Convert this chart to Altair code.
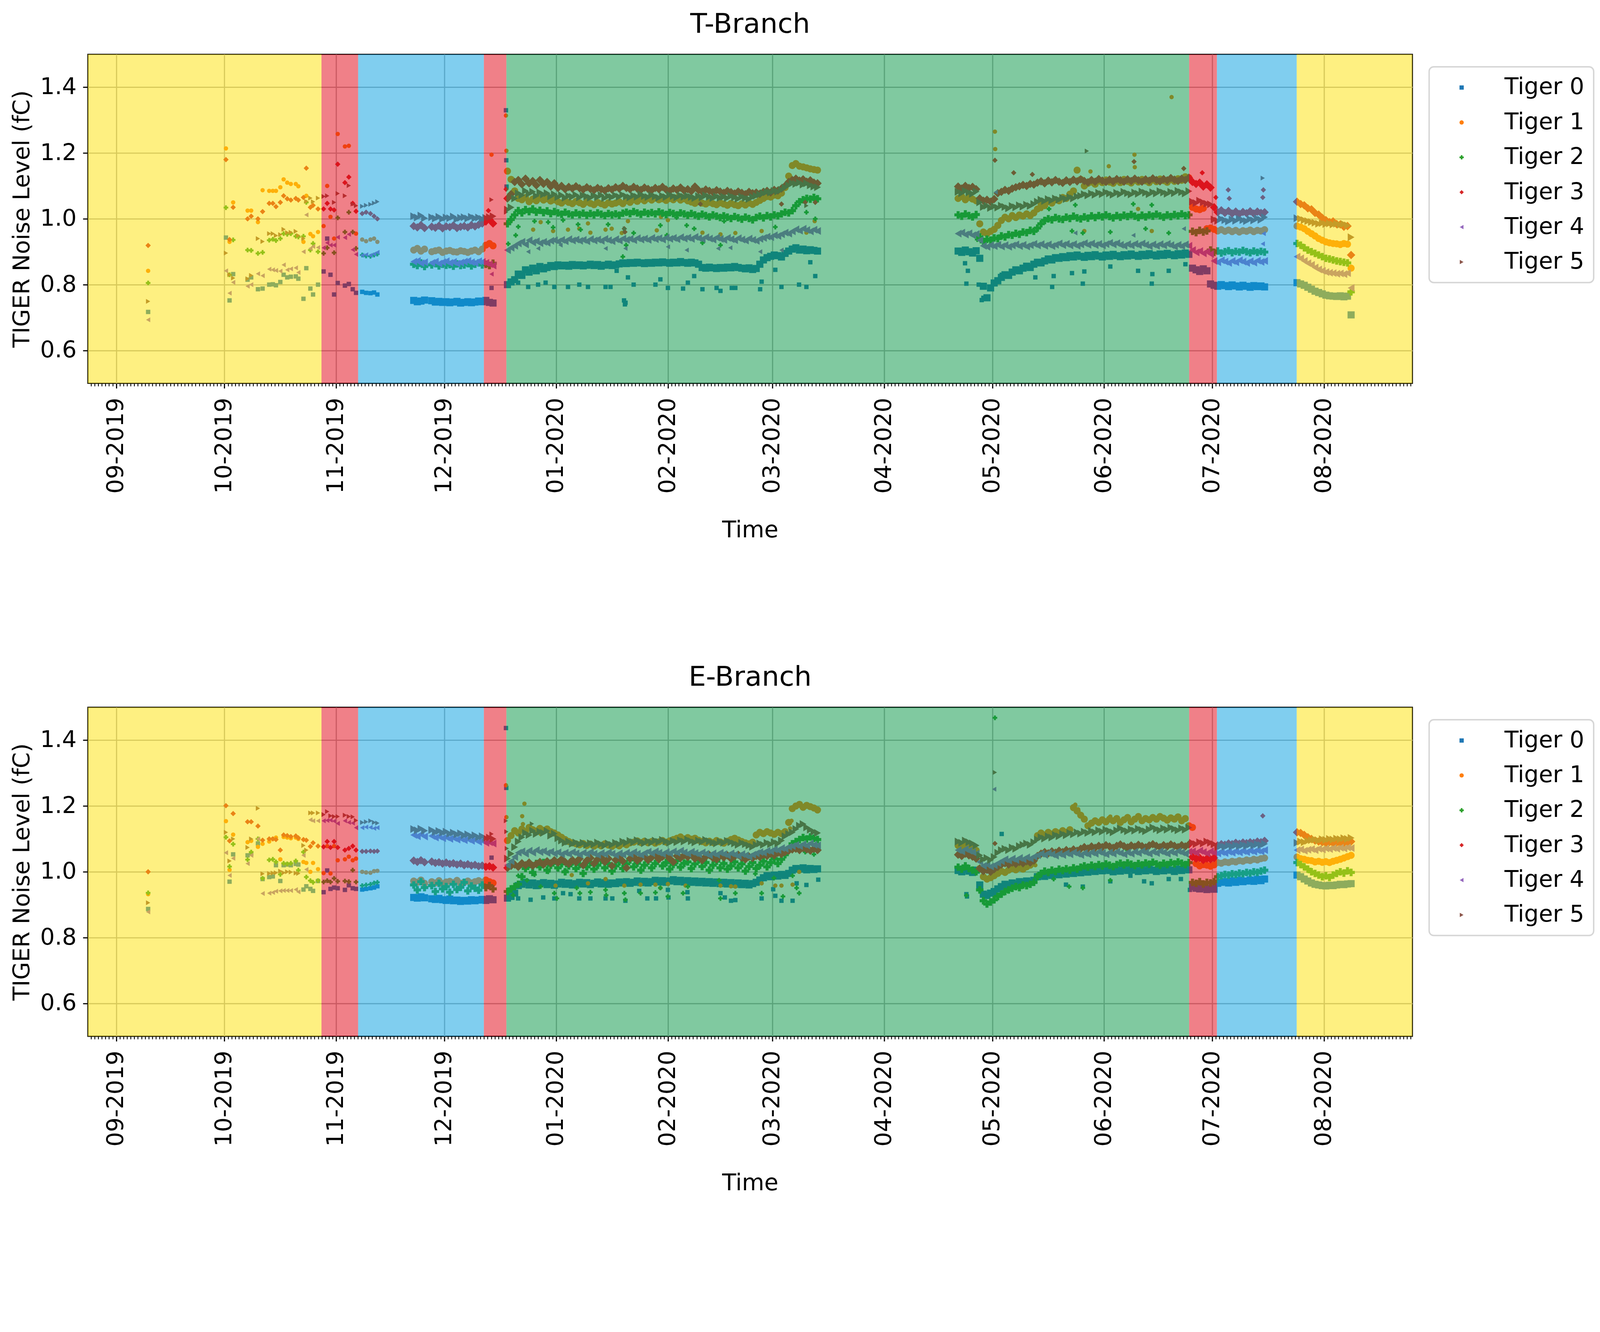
import altair as alt
import pandas as pd

# ---------------------------------------------------------------- categories
TIGERS = ["Tiger 0", "Tiger 1", "Tiger 2", "Tiger 3", "Tiger 4", "Tiger 5"]
COLORS = ["#1f77b4", "#ff7f0e", "#2ca02c", "#d62728", "#9467bd", "#8c564b"]
SHAPES = ["square", "circle", "cross", "diamond", "triangle-left", "triangle-right"]
AREA_SPARSE = [150, 150, 170, 230, 190, 190]   # isolated readings
AREA_DENSE = [400, 400, 440, 560, 480, 480]    # continuous daily runs

# ---------------------------------------------------------------- background periods
BAND_START = ["2019-08-24T03:00", "2019-10-27T22:00", "2019-11-07T02:00", "2019-12-11T23:00",
              "2019-12-18T05:00", "2020-06-24T14:00", "2020-07-02T07:00", "2020-07-24T10:00"]
BAND_END = ["2019-10-27T22:00", "2019-11-07T02:00", "2019-12-11T23:00", "2019-12-18T05:00",
            "2020-06-24T14:00", "2020-07-02T07:00", "2020-07-24T10:00", "2020-08-25T12:00"]
BAND_COLOR = ["#fde103", "#e10111", "#019ddf", "#e10111", "#019341", "#e10111", "#019ddf", "#fde103"]

X_START = "2019-08-24T03:00"
X_END = "2020-08-25T12:00"

# ---------------------------------------------------------------- measurement dates
EARLY_DATES = ["2019-09-09T20", "2019-10-01T10", "2019-10-02T10", "2019-10-03T10", "2019-10-07T10",
               "2019-10-08T10", "2019-10-10T07", "2019-10-11T14", "2019-10-13T10", "2019-10-14T10",
               "2019-10-15T07", "2019-10-16T12", "2019-10-17T10", "2019-10-18T10", "2019-10-19T10",
               "2019-10-20T19", "2019-10-21T12", "2019-10-22T22", "2019-10-23T17", "2019-10-24T20",
               "2019-10-25T14", "2019-10-26T23", "2019-10-28T12", "2019-10-29T12", "2019-10-30T10",
               "2019-10-31T10", "2019-11-01T10", "2019-11-03T10", "2019-11-04T12", "2019-11-05T14",
               "2019-11-06T12", "2019-11-08T05", "2019-11-09T07", "2019-11-10T12", "2019-11-11T12",
               "2019-11-12T10"]
A_START = "2019-11-22"   # daily readings, Nov 22 - Dec 14
B_START = "2019-12-18"   # daily readings, Dec 18 - Mar 13
C_START = "2020-04-21"   # daily readings, Apr 21 - Jul 15
D_START = "2020-07-24"   # daily readings, Jul 24 - Aug 8

# ================================================================ T-Branch (values in mfC)
T0_EARLY = [717, 943, 752, 832, 815, 822, 786, 788, 800, 801, 798, 808, 830, 822, 824, 825, 818, 757,
            850, 788, 770, 800, 840, 940, 830, 770, 805, 797, 802, 786, 775, 778, 775, 774, 776, 770]
T1_EARLY = [842, 1214, 930, 1050, 1025, 1025, 990, 1087, 1085, 1085, 1085, 1096, 1120, 1110, 1106, 1106, 1099, 930,
            1070, 954, 947, 960, 978, 1100, 1006, 940, 1258, 1220, 1222, None, 955, 937, 932, 937, 940, 930]
T2_EARLY = [805, 1034, 830, 936, 905, 904, 895, 898, 935, 938, 934, 940, 955, 953, 955, 947, 945, 947,
            1050, 905, 925, 900, 895, 912, None, 897, 1003, 960, 1020, 960, 910, 890, 887, 886, 890, 893]
T3_EARLY = [919, 1180, 937, 1035, 1000, 1008, 1000, 1022, 1047, 1047, 1037, 1050, 1070, 1061, 1057, 1062, 1057, 1065,
            1154, 1035, 1041, 1030, 1030, 1047, 1030, 1027, 1166, 1110, 1127, 1047, 1023, 1016, 1020, 1016, 1008, 1000]
T4_EARLY = [693, 842, 774, 807, 795, 800, 833, 827, 847, 845, 843, 841, 860, 845, 848, 851, 837, 900,
            1012, 910, 916, 913, 912, 927, 920, 920, 944, 943, 953, 906, 892, 889, 891, 889, 893, 898]
T5_EARLY = [749, 896, 830, 820, 818, 828, 940, 931, 955, 955, 949, 952, 968, 958, 959, 962, 949, 940,
            1053, 1063, 1052, 1063, 1068, 1070, None, 1050, 1077, 1070, 1101, 1045, 1040, 1038, 1041, 1044, 1048, 1052]

T0_A = [752, 748, 750, 753, None, 751, 747, 749, 746, 748, 745, 747, 749, 744, 746, 748, 745, 747, 750, 748, 752, 746, 744]
T1_A = [905, 910, 902, 908, None, 900, 903, 905, 898, 902, 904, 900, 899, 903, 901, 898, 902, 905, 900, 908, 920, 925, 918]
T2_A = [862, 858, 866, 855, None, 860, 864, 857, 862, 859, 861, 856, 863, 858, 860, 864, 857, 862, 866, 860, 862, 858, 865]
T3_A = [978, 974, 981, 972, None, 976, 973, 979, 971, 977, 975, 980, 972, 976, 978, 974, 981, 977, 982, 986, 992, 998, 986]
T4_A = [870, 872, 865, 868, None, 866, 870, 864, 868, 871, 866, 869, 864, 867, 870, 872, 868, 866, 871, 869, 866, 862, 858]
T5_A = [1008, 1004, 1010, 1002, None, 1005, 1001, 1006, 1000, 1004, 1002, 1007, 999, 1003, 1005, 1001, 1006, 1002, 1004, 1000, 1003, 1005, 1008]

T0_B = [800, 808, 815, 832, 828, 845, 838, 850, 842, 855,
        848, 852, 858, 855, 860, 857, 859, 856, 861, 858,
        860, 857, 859, 862, 858, 861, 856, 859, 862, 858,
        860, 863, 866, 864, 867, 865, 868, 866, 864, 867,
        865, 868, 866, 869, 867, 865, 868, 866, 870, 867,
        865, 868, 866, 862, 852, 850, 853, 851, 849, 852,
        850, 853, 851, 855, 852, 850, 848, 851, 846, 849,
        862, 875, 882, 886, 890, 888, 884, 895, 902, 908,
        912, 905, 908, 903, 906, 904, 902]
T1_B = [1145, 1120, 1085, 1062, 1058, 1065, 1052, 1060, 1055, 1063,
        1057, 1061, 1054, 1058, 1052, 1048, 1055, 1050, 1046, 1053,
        1049, 1044, 1051, 1047, 1043, 1050, 1046, 1042, 1049, 1045,
        1048, 1052, 1046, 1055, 1050, 1058, 1053, 1060, 1055, 1062,
        1057, 1063, 1058, 1061, 1056, 1062, 1058, 1064, 1057, 1061,
        1055, 1051, 1047, 1052, 1048, 1045, 1050, 1046, 1043, 1049,
        1045, 1041, 1047, 1043, 1040, 1046, 1042, 1048, 1044, 1050,
        1056, 1062, 1068, 1066, 1072, 1070, 1078, 1095, 1130, 1162,
        1168, 1160, 1158, 1155, 1152, 1150, 1148]
T2_B = [985, 998, 1012, 1025, 1018, 1028, 1022, 1030, 1020, 1026,
        1019, 1024, 1016, 1022, 1018, 1014, 1020, 1015, 1012, 1018,
        1013, 1017, 1011, 1016, 1012, 1018, 1014, 1010, 1016, 1012,
        1015, 1011, 1017, 1020, 1016, 1022, 1018, 1014, 1020, 1016,
        1019, 1015, 1021, 1017, 1013, 1019, 1016, 1012, 1018, 1015,
        1011, 1016, 1012, 1008, 1014, 1010, 1006, 1012, 1008, 1004,
        1009, 1005, 1001, 1007, 1003, 999, 1005, 1001, 997, 1004,
        1008, 1003, 1010, 1006, 1012, 1009, 1015, 1020, 1018, 1025,
        1040, 1052, 1058, 1062, 1060, 1065, 1061]
T3_B = [1062, 1075, 1112, 1118, 1105, 1122, 1108, 1115, 1102, 1118,
        1106, 1112, 1098, 1108, 1094, 1100, 1090, 1097, 1092, 1099,
        1093, 1089, 1096, 1091, 1087, 1094, 1090, 1086, 1093, 1089,
        1096, 1092, 1100, 1094, 1090, 1097, 1092, 1088, 1095, 1091,
        1087, 1094, 1090, 1097, 1089, 1085, 1092, 1088, 1095, 1086,
        1090, 1084, 1098, 1087, 1083, 1089, 1085, 1081, 1087, 1083,
        1079, 1085, 1081, 1077, 1083, 1079, 1075, 1082, 1078, 1080,
        1076, 1082, 1085, 1080, 1088, 1086, 1092, 1100, 1112, 1118,
        1122, 1116, 1120, 1113, 1117, 1110, 1108]
T4_B = [905, 912, 918, 925, 930, 922, 935, 928, 932, 926,
        930, 927, 933, 935, 931, 936, 932, 938, 934, 937,
        933, 936, 932, 938, 934, 937, 933, 939, 935, 932,
        938, 934, 940, 936, 939, 935, 941, 937, 940, 936,
        942, 938, 941, 937, 943, 939, 942, 938, 944, 940,
        943, 939, 945, 941, 938, 944, 940, 937, 943, 939,
        936, 942, 938, 935, 941, 937, 934, 940, 936, 933,
        939, 942, 946, 944, 950, 948, 953, 958, 955, 962,
        968, 964, 970, 966, 962, 967, 963]
T5_B = [1028, 1035, 1062, 1078, 1072, 1085, 1076, 1082, 1070, 1080,
        1074, 1078, 1068, 1075, 1066, 1072, 1064, 1070, 1067, 1073,
        1065, 1071, 1068, 1064, 1070, 1066, 1072, 1063, 1069, 1066,
        1071, 1067, 1073, 1068, 1065, 1071, 1067, 1074, 1069, 1066,
        1072, 1068, 1064, 1070, 1066, 1073, 1069, 1065, 1071, 1067,
        1070, 1066, 1063, 1069, 1065, 1071, 1067, 1063, 1068, 1064,
        1067, 1063, 1069, 1065, 1061, 1067, 1063, 1060, 1066, 1070,
        1074, 1078, 1082, 1080, 1085, 1083, 1088, 1095, 1102, 1108,
        1106, 1110, 1104, 1108, 1102, 1098, 1096]

T0_C = [902, 898, 905, 900, 896, 903, 880, 795, 760, 790,
        805, 812, 822, 830, 828, 838, 845, 842, 850, 856,
        852, 862, 868, 866, 872, 878, 875, 882, 880, 885,
        882, 888, 884, 890, 886, 883, 889, 885, 891, 887,
        884, 890, 886, 892, 888, 885, 891, 887, 893, 889,
        886, 892, 888, 894, 890, 887, 893, 889, 895, 891,
        888, 894, 890, 896, 892, 850, 845, 840, 848, 842,
        802, 798, 795, 800, 797, 794, 799, 796, 793, 798,
        795, 792, 797, 794, 796, 793]
T1_C = [1062, 1068, 1058, 1065, 1060, 1055, 985, 960, 955, 962,
        968, 980, 995, 1005, 1000, 1010, 1004, 1012, 1008, 1015,
        1010, 1018, 1030, 1045, 1040, 1052, 1048, 1058, 1055, 1065,
        1062, 1075, 1085, 1148, 1120, 1100, 1108, 1112, 1105, 1115,
        1110, 1118, 1112, 1108, 1116, 1110, 1120, 1114, 1109, 1117,
        1112, 1120, 1115, 1110, 1118, 1113, 1121, 1116, 1111, 1119,
        1114, 1122, 1117, 1128, 1125, 1035, 1030, 1028, 1032, 970,
        972, 968, 963, 967, 962, 966, 961, 965, 960, 964,
        962, 966, 961, 965, 963, 967]
T2_C = [1012, 1008, 1015, 1010, 1006, 1013, 945, 930, 938, 935,
        942, 940, 948, 945, 952, 950, 956, 953, 960, 958,
        965, 962, 972, 985, 995, 1000, 997, 1004, 1000, 998,
        1005, 1001, 1008, 1003, 1000, 1006, 1002, 1009, 1004, 1010,
        1006, 1012, 1007, 1003, 1010, 1005, 1011, 1007, 1013, 1008,
        1004, 1011, 1006, 1012, 1008, 1014, 1009, 1005, 1012, 1007,
        1013, 1009, 1015, 1010, 1012, 962, 958, 965, 960, 963,
        905, 898, 902, 896, 900, 903, 897, 901, 899, 904,
        900, 897, 902, 898, 901, 899]
T3_C = [1098, 1092, 1100, 1094, 1097, 1090, 1062, 1055, 1058, 1052,
        1060, 1078, 1082, 1088, 1085, 1092, 1096, 1099, 1103, 1100,
        1106, 1104, 1110, 1114, 1108, 1116, 1111, 1118, 1113, 1109,
        1117, 1112, 1119, 1114, 1120, 1115, 1111, 1118, 1113, 1121,
        1116, 1112, 1119, 1114, 1121, 1117, 1113, 1120, 1115, 1122,
        1117, 1113, 1120, 1116, 1123, 1118, 1114, 1121, 1117, 1124,
        1119, 1115, 1122, 1118, 1125, 1112, 1106, 1110, 1098, 1105,
        1095, 1035, 1020, 1026, 1018, 1024, 1016, 1022, 1015, 1021,
        1017, 1023, 1016, 1022, 1018, 1020]
T4_C = [955, 958, 952, 956, 950, 954, 935, 918, 915, 920,
        917, 921, 916, 920, 915, 919, 922, 917, 921, 916,
        920, 924, 919, 923, 918, 922, 917, 921, 925, 920,
        924, 919, 923, 918, 922, 926, 921, 925, 920, 924,
        919, 923, 927, 922, 926, 921, 918, 923, 919, 924,
        920, 925, 921, 917, 922, 918, 923, 919, 924, 920,
        916, 921, 917, 922, 918, 905, 898, 902, 895, 900,
        893, 872, 868, 874, 870, 866, 872, 868, 874, 870,
        866, 871, 867, 873, 869, 872]
T5_C = [1082, 1078, 1085, 1080, 1076, 1083, 1050, 1036, 1040, 1033,
        1038, 1034, 1040, 1036, 1032, 1039, 1035, 1041, 1037, 1043,
        1039, 1045, 1052, 1058, 1054, 1060, 1056, 1062, 1058, 1064,
        1060, 1066, 1062, 1068, 1070, 1075, 1071, 1077, 1073, 1079,
        1075, 1081, 1077, 1073, 1079, 1075, 1082, 1078, 1074, 1080,
        1076, 1083, 1079, 1075, 1081, 1077, 1084, 1080, 1076, 1082,
        1078, 1085, 1081, 1077, 1084, 1052, 1048, 1055, 1050, 1046,
        1044, 998, 994, 1000, 996, 992, 998, 994, 1000, 996,
        993, 999, 995, 1001, 997, 1005]

T0_D = [806, 802, 798, 792, 786, 780, 776, 772, 768, 766, 765, 764, 766, 763, 765, 708]
T1_D = [978, 975, 970, 962, 955, 948, 940, 935, 930, 927, 925, 924, 922, 925, 923, 850]
T2_D = [925, 920, 912, 905, 900, 895, 890, 885, 880, 878, 875, 872, 870, 868, 866, 778]
T3_D = [1052, 1045, 1041, 1032, 1029, 1018, 1013, 1003, 996, 990, 992, 984, 983, 976, 978, 890]
T4_D = [885, 880, 872, 865, 860, 852, 846, 842, 838, 836, 835, 833, 834, 832, 835, 790]
T5_D = [1002, 1000, 996, 993, 990, 988, 985, 987, 984, 986, 983, 985, 982, 984, 980, 944]

T0_OUT = [("2019-12-14T02", 790), ("2019-12-18T02", 1330), ("2019-12-18T04", 1178), ("2019-12-18T06", 1098),
          ("2019-12-21T11", 806), ("2019-12-24T06", 793), ("2019-12-27T00", 800), ("2019-12-29T02", 806),
          ("2019-12-31T12", 793), ("2020-01-04T07", 793), ("2020-01-07T10", 800), ("2020-01-09T20", 793),
          ("2020-01-14T17", 793), ("2020-01-16T02", 793), ("2020-01-17T19", 842), ("2020-01-19T20", 752),
          ("2020-01-20T02", 740), ("2020-01-20T06", 745), ("2020-01-20T22", 822), ("2020-01-22T12", 800),
          ("2020-01-28T13", 800), ("2020-01-29T22", 816), ("2020-02-01T00", 790), ("2020-02-05T05", 788),
          ("2020-02-06T13", 806), ("2020-02-08T07", 826), ("2020-02-10T14", 786), ("2020-02-14T12", 790),
          ("2020-02-15T14", 781), ("2020-02-18T17", 790), ("2020-02-19T17", 790), ("2020-02-26T14", 786),
          ("2020-02-27T00", 809), ("2020-03-01T19", 845), ("2020-03-03T12", 793), ("2020-03-08T09", 800),
          ("2020-03-10T10", 793), ("2020-03-11T12", 868), ("2020-03-12T21", 826),
          ("2020-04-23T10", 865), ("2020-04-24T05", 842), ("2020-04-23T19", 803), ("2020-04-27T05", 800),
          ("2020-04-28T01", 753), ("2020-04-28T12", 760), ("2020-05-03T14", 830), ("2020-05-05T07", 826),
          ("2020-05-12T22", 822), ("2020-05-17T14", 793), ("2020-05-18T00", 826), ("2020-05-23T02", 835),
          ("2020-05-26T02", 803), ("2020-05-26T12", 840), ("2020-06-02T17", 855), ("2020-06-10T10", 842),
          ("2020-06-14T05", 803), ("2020-06-14T09", 832), ("2020-06-18T22", 842), ("2020-06-23T13", 862)]
T1_OUT = [("2019-12-14T02", 1195), ("2019-12-18T02", 1314), ("2019-12-18T05", 1207), ("2019-12-19T10", 993),
          ("2019-12-25T15", 967), ("2019-12-27T17", 990), ("2019-12-31T04", 963), ("2020-01-04T07", 967),
          ("2020-01-07T10", 970), ("2020-01-09T20", 986), ("2020-01-10T12", 958), ("2020-01-14T17", 967),
          ("2020-01-16T10", 970), ("2020-01-19T05", 957), ("2020-01-20T22", 993), ("2020-01-28T22", 965),
          ("2020-01-30T02", 1006), ("2020-02-01T00", 996), ("2020-02-06T13", 1009), ("2020-02-10T14", 958),
          ("2020-02-15T14", 953), ("2020-02-19T17", 957), ("2020-02-27T00", 963), ("2020-03-10T10", 958),
          ("2020-03-12T17", 993),
          ("2020-05-01T17", 1265), ("2020-05-01T19", 1212), ("2020-05-28T05", 1144), ("2020-06-02T07", 1160),
          ("2020-06-09T10", 1195), ("2020-06-09T12", 1157), ("2020-06-19T17", 1370), ("2020-05-14T14", 1030),
          ("2020-05-26T12", 963), ("2020-06-10T10", 1030), ("2020-06-14T05", 963)]
T2_OUT = [("2019-12-18T17", 924), ("2019-12-20T19", 950), ("2019-12-21T12", 976), ("2019-12-26T00", 993),
          ("2019-12-29T19", 990), ("2019-12-31T04", 974), ("2020-01-02T22", 996), ("2020-01-07T02", 983),
          ("2020-01-07T19", 967), ("2020-01-15T10", 983), ("2020-01-19T12", 885), ("2020-01-20T10", 920),
          ("2020-01-22T12", 957), ("2020-01-29T22", 980), ("2020-01-31T17", 950), ("2020-02-03T10", 1004),
          ("2020-02-06T05", 980), ("2020-02-08T07", 970), ("2020-02-10T14", 927), ("2020-02-15T14", 920),
          ("2020-02-16T14", 993), ("2020-03-01T19", 975), ("2020-03-10T10", 1020), ("2020-03-12T21", 1000),
          ("2020-04-26T19", 937), ("2020-05-16T17", 1030), ("2020-05-23T02", 963), ("2020-05-24T00", 1042),
          ("2020-05-26T02", 957), ("2020-06-02T17", 960), ("2020-06-09T02", 1045), ("2020-06-12T12", 970),
          ("2020-06-14T05", 1042), ("2020-06-18T22", 957)]
T3_OUT = [("2019-12-13T05", 1025), ("2019-12-18T03", 1090), ("2020-01-19T22", 970), ("2020-01-20T02", 960),
          ("2020-02-10T00", 1045), ("2020-03-03T12", 1045), ("2020-03-10T02", 1050), ("2020-03-12T21", 1050),
          ("2020-05-01T17", 1178), ("2020-05-06T22", 1140), ("2020-05-12T02", 1135), ("2020-06-09T07", 1174),
          ("2020-06-23T02", 1153), ("2020-06-28T05", 1140), ("2020-07-02T00", 1065), ("2020-07-05T10", 1088),
          ("2020-07-05T17", 1062), ("2020-07-15T00", 1065), ("2020-07-15T04", 1088)]
T4_OUT = [("2019-12-14T02", 832), ("2019-12-24T06", 900), ("2019-12-27T00", 910), ("2020-01-02T05", 920),
          ("2020-01-14T17", 910), ("2020-01-20T05", 910), ("2020-02-01T00", 915), ("2020-02-06T05", 905),
          ("2020-02-14T22", 910), ("2020-02-18T07", 912), ("2020-02-26T14", 900), ("2020-03-03T12", 905),
          ("2020-05-01T22", 1081), ("2020-05-24T00", 957), ("2020-06-09T02", 950), ("2020-06-23T02", 970),
          ("2020-07-15T00", 924), ("2020-07-15T06", 955)]
T5_OUT = [("2019-12-14T02", 1058), ("2019-12-18T03", 1020), ("2020-01-20T02", 970), ("2020-03-10T10", 1040),
          ("2020-05-27T05", 1206), ("2020-07-15T00", 1124)]

# ================================================================ E-Branch (values in mfC)
E0_EARLY = [887, None, 970, 1053, 1050, 1055, 1086, 978, 984, 986, 1020, 972, 1020, 1022, 1020, 1024, 1022, 946,
            956, 948, 942, 972, 938, 1004, 948, 952, 950, 945, 959, 950, 948, 946, 948, 950, 952, 956]
E1_EARLY = [932, 1154, 1006, 1113, 1090, 1094, 1076, 1085, 1092, 1100, 1104, 1038, 1106, 1104, 1102, 1104, 1100, 1030,
            1027, 1000, 1027, 1008, 996, 1078, 995, 1078, 1035, 1038, 1046, 1035, 1040, 1000, 998, 997, 1002, 1003]
E2_EARLY = [936, 1105, 1016, 1084, 1037, 1060, 1100, 980, 1036, 1038, 1030, 992, 1026, 1024, 1026, 1033, 1005, 1060,
            984, 973, 968, 973, 969, 973, 969, 980, 971, 972, 970, 1005, 969, 958, 960, 962, 966, 968]
E3_EARLY = [1000, 1201, 1094, 1177, 1152, 1152, 1139, 1096, 1100, 1100, 1098, 1066, 1112, 1110, 1107, 1109, 1103, 1098,
            1096, 1077, 1088, 1078, 1076, 1092, 1074, 1092, 1074, 1066, 1071, 1078, 1066, 1062, 1062, 1063, 1062, 1063]
E4_EARLY = [878, 1058, 989, 1041, 1025, 1050, 1100, 934, 935, 937, 941, 942, 943, 943, 943, 946, 939, 1050,
            1007, 1158, 1155, 1155, 1155, 1156, 1157, 1154, 1147, 1155, 1150, 1148, 1134, 1134, 1136, 1135, 1132, 1134]
E5_EARLY = [906, 1120, 1033, 1100, 1074, 1100, 1193, 994, 995, 996, 997, 1002, 997, 1000, 999, 996, 995, 1080,
            1066, 1179, 1179, 1179, 1174, 1183, 1170, 1168, 1168, 1172, 1168, 1167, 1156, 1150, 1152, 1155, 1150, 1148]

E0_A = [922, 920, 924, 921, None, 918, 916, 919, 915, 913, 917, 912, 914, 910, 913, 911, 915, 912, 914, 916, 913, 918, 915]
E1_A = [972, 968, 975, 965, None, 970, 966, 973, 964, 969, 971, 967, 974, 965, 968, 972, 966, 970, 973, 968, 975, 970, 966]
E2_A = [960, 945, 970, 952, None, 958, 940, 965, 948, 955, 938, 962, 946, 953, 968, 942, 957, 950, 944, 960, 952, 958, 948]
E3_A = [1034, 1030, 1035, 1029, None, 1031, 1027, 1029, 1025, 1028, 1024, 1026, 1022, 1025, 1020, 1023, 1019, 1021, 1017, 1019, 1015, 1017, 1013]
E4_A = [1112, 1108, 1114, 1107, None, 1109, 1104, 1107, 1102, 1105, 1100, 1103, 1098, 1101, 1096, 1099, 1094, 1097, 1091, 1094, 1088, 1090, 1086]
E5_A = [1130, 1126, 1131, 1125, None, 1127, 1121, 1124, 1119, 1122, 1116, 1119, 1114, 1117, 1111, 1114, 1108, 1111, 1105, 1108, 1102, 1104, 1100]

E0_B = [920, 925, 935, 958, 962, 968, 960, 966, 958, 964,
        967, 961, 965, 959, 963, 968, 962, 966, 960, 964,
        968, 963, 967, 961, 965, 969, 963, 967, 962, 966,
        964, 969, 966, 970, 965, 968, 972, 967, 971, 966,
        970, 974, 969, 973, 968, 972, 976, 970, 974, 969,
        973, 968, 972, 967, 971, 966, 970, 965, 969, 964,
        968, 963, 967, 962, 966, 961, 965, 960, 964, 968,
        975, 982, 988, 985, 990, 987, 992, 989, 995, 1005,
        1010, 1008, 1012, 1006, 1010, 1007, 1009]
E1_B = [1095, 1110, 1125, 1118, 1130, 1122, 1135, 1128, 1124, 1132,
        1126, 1130, 1122, 1118, 1112, 1105, 1098, 1092, 1088, 1085,
        1082, 1086, 1080, 1084, 1078, 1083, 1079, 1085, 1081, 1077,
        1083, 1079, 1086, 1082, 1088, 1090, 1094, 1089, 1093, 1088,
        1092, 1087, 1091, 1095, 1090, 1094, 1098, 1102, 1106, 1100,
        1104, 1099, 1102, 1096, 1092, 1088, 1093, 1089, 1095, 1091,
        1087, 1093, 1098, 1102, 1097, 1092, 1088, 1085, 1090, 1112,
        1120, 1116, 1122, 1118, 1114, 1120, 1116, 1122, 1150, 1192,
        1200, 1205, 1196, 1202, 1198, 1194, 1188]
E2_B = [940, 948, 955, 962, 985, 1010, 1022, 998, 1025, 1015,
        1028, 1005, 1020, 1032, 1012, 1024, 1000, 1018, 1030, 1010,
        1022, 995, 1015, 1028, 1008, 1020, 1035, 1012, 1025, 1002,
        1018, 1030, 1010, 1024, 1036, 1015, 1026, 1005, 1020, 1032,
        1012, 1025, 1040, 1018, 1028, 1008, 1022, 1034, 1014, 1026,
        1030, 1010, 1024, 1036, 1016, 1028, 1005, 1020, 1032, 1012,
        1025, 1008, 1018, 1030, 1012, 1024, 1002, 1016, 1028, 1010,
        1020, 1032, 1015, 1028, 1040, 1025, 1038, 1052, 1068, 1085,
        1092, 1098, 1104, 1100, 1106, 1102, 1098]
E3_B = [1012, 1018, 1022, 1015, 1026, 1020, 1028, 1018, 1024, 1030,
        1022, 1032, 1026, 1035, 1028, 1038, 1030, 1024, 1036, 1029,
        1040, 1020, 1034, 1042, 1025, 1038, 1044, 1030, 1040, 1018,
        1036, 1045, 1032, 1012, 1040, 1046, 1034, 1042, 1048, 1036,
        1044, 1050, 1038, 1046, 1052, 1040, 1030, 1048, 1042, 1050,
        1045, 1052, 1040, 1048, 1035, 1046, 1051, 1042, 1038, 1049,
        1044, 1050, 1040, 1047, 1052, 1043, 1038, 1046, 1042, 1048,
        1045, 1052, 1048, 1055, 1050, 1058, 1054, 1060, 1064, 1068,
        1070, 1066, 1072, 1068, 1064, 1070, 1066]
E4_B = [1020, 1032, 1045, 1058, 1062, 1055, 1064, 1058, 1066, 1060,
        1063, 1057, 1061, 1055, 1059, 1053, 1058, 1054, 1060, 1056,
        1052, 1058, 1054, 1060, 1055, 1051, 1057, 1053, 1059, 1055,
        1050, 1056, 1052, 1058, 1054, 1060, 1055, 1051, 1057, 1061,
        1056, 1062, 1058, 1054, 1060, 1056, 1062, 1058, 1064, 1059,
        1055, 1061, 1057, 1053, 1059, 1055, 1050, 1056, 1052, 1058,
        1054, 1050, 1056, 1052, 1048, 1054, 1050, 1046, 1052, 1056,
        1060, 1058, 1064, 1062, 1068, 1066, 1072, 1070, 1076, 1078,
        1082, 1078, 1084, 1080, 1086, 1082, 1080]
E5_B = [1040, 1055, 1075, 1092, 1105, 1118, 1112, 1125, 1115, 1122,
        1118, 1124, 1110, 1116, 1102, 1095, 1088, 1092, 1085, 1089,
        1084, 1088, 1082, 1087, 1083, 1089, 1084, 1080, 1086, 1082,
        1088, 1084, 1092, 1088, 1094, 1090, 1096, 1091, 1087, 1093,
        1089, 1095, 1091, 1097, 1092, 1088, 1094, 1090, 1096, 1092,
        1098, 1093, 1089, 1095, 1091, 1097, 1093, 1089, 1086, 1092,
        1088, 1094, 1090, 1086, 1082, 1088, 1084, 1080, 1076, 1082,
        1086, 1082, 1088, 1084, 1090, 1086, 1095, 1108, 1115, 1120,
        1130, 1140, 1145, 1135, 1128, 1122, 1118]

E0_C = [1004, 1000, 1008, 1002, 998, 1005, 960, 932, 928, 935,
        940, 948, 955, 962, 958, 966, 962, 970, 966, 972,
        968, 974, 985, 990, 986, 993, 989, 995, 991, 997,
        993, 999, 995, 1001, 997, 1003, 999, 1005, 1001, 1007,
        1003, 1008, 1004, 1000, 1006, 1002, 1008, 1004, 1010, 1005,
        1001, 1007, 1003, 1009, 1005, 1001, 1007, 1003, 1009, 1005,
        1001, 1008, 1004, 1010, 1006, 955, 950, 948, 952, 946,
        950, 947, 965, 968, 970, 966, 972, 968, 974, 970,
        972, 975, 971, 977, 973, 978]
E1_C = [1080, 1075, 1082, 1077, 1072, 1065, 1010, 985, 978, 982,
        988, 995, 1002, 998, 1005, 1010, 1006, 1012, 1008, 1015,
        1020, 1035, 1110, 1118, 1112, 1120, 1115, 1122, 1118, 1125,
        1120, 1128, 1195, 1185, 1172, 1160, 1140, 1148, 1155, 1150,
        1158, 1152, 1160, 1155, 1162, 1150, 1158, 1165, 1152, 1160,
        1168, 1155, 1162, 1158, 1165, 1160, 1168, 1163, 1157, 1164,
        1160, 1167, 1155, 1162, 1140, 1135, 1025, 1018, 1022, 1020,
        1017, 1021, 1028, 1026, 1030, 1028, 1032, 1030, 1034, 1032,
        1036, 1034, 1038, 1036, 1040, 1042]
E2_C = [1014, 1008, 1018, 1010, 1005, 1000, 945, 912, 902, 908,
        915, 925, 932, 940, 945, 950, 955, 952, 960, 958,
        962, 968, 985, 995, 1002, 998, 1005, 1001, 1008, 1004,
        1009, 1005, 1012, 1008, 1014, 1018, 1014, 1020, 1016, 1022,
        1018, 1024, 1020, 1016, 1022, 1026, 1021, 1027, 1023, 1019,
        1025, 1021, 1027, 1023, 1029, 1024, 1020, 1026, 1022, 1028,
        1024, 1030, 1026, 1022, 1028, 968, 965, 970, 963, 968,
        966, 970, 985, 988, 992, 990, 994, 992, 996, 994,
        998, 996, 1000, 998, 1002, 1005]
E3_C = [1052, 1048, 1055, 1050, 1046, 1040, 1010, 1002, 1006, 1000,
        1008, 1015, 1022, 1026, 1022, 1028, 1024, 1030, 1026, 1032,
        1028, 1034, 1048, 1055, 1060, 1056, 1062, 1058, 1064, 1060,
        1066, 1062, 1068, 1064, 1070, 1075, 1071, 1077, 1073, 1079,
        1075, 1081, 1077, 1073, 1079, 1083, 1078, 1074, 1080, 1076,
        1082, 1078, 1074, 1080, 1084, 1079, 1075, 1081, 1077, 1083,
        1079, 1075, 1081, 1077, 1083, 1045, 1040, 1042, 1036, 1040,
        1038, 1042, 1080, 1084, 1082, 1086, 1084, 1088, 1085, 1089,
        1087, 1090, 1088, 1092, 1090, 1094]
E4_C = [1066, 1062, 1069, 1064, 1060, 1055, 1030, 1018, 1022, 1016,
        1020, 1026, 1032, 1038, 1034, 1040, 1036, 1042, 1038, 1044,
        1040, 1046, 1050, 1055, 1051, 1057, 1053, 1049, 1055, 1051,
        1057, 1053, 1059, 1055, 1051, 1057, 1053, 1059, 1055, 1061,
        1057, 1053, 1059, 1055, 1061, 1057, 1053, 1059, 1055, 1061,
        1057, 1063, 1059, 1055, 1061, 1057, 1063, 1059, 1055, 1061,
        1057, 1063, 1059, 1055, 1061, 1062, 1058, 1064, 1060, 1056,
        1062, 1058, 1056, 1060, 1057, 1061, 1058, 1062, 1059, 1063,
        1060, 1064, 1061, 1065, 1062, 1066]
E5_C = [1092, 1088, 1095, 1090, 1086, 1080, 1050, 1038, 1042, 1036,
        1045, 1058, 1066, 1070, 1066, 1074, 1070, 1078, 1082, 1086,
        1082, 1090, 1098, 1105, 1101, 1108, 1104, 1112, 1108, 1115,
        1111, 1118, 1114, 1120, 1116, 1122, 1118, 1124, 1120, 1126,
        1122, 1128, 1124, 1120, 1126, 1132, 1127, 1123, 1129, 1125,
        1131, 1127, 1123, 1129, 1135, 1130, 1126, 1132, 1128, 1134,
        1130, 1126, 1132, 1128, 1134, 1088, 1084, 1090, 1086, 1092,
        1088, 1084, 1075, 1079, 1076, 1080, 1077, 1081, 1078, 1082,
        1079, 1083, 1080, 1084, 1081, 1085]

E0_D = [990, 985, 978, 972, 966, 962, 960, 958, 957, 959, 958, 960, 962, 961, 963, 964]
E1_D = [1045, 1040, 1038, 1035, 1034, 1030, 1032, 1029, 1031, 1028, 1032, 1035, 1038, 1042, 1046, 1050]
E2_D = [1028, 1022, 1015, 1008, 1000, 995, 990, 985, 988, 983, 990, 995, 1000, 996, 1003, 998]
E3_D = [1120, 1118, 1112, 1105, 1100, 1095, 1092, 1090, 1088, 1090, 1087, 1089, 1086, 1088, 1090, 1092]
E4_D = [1066, 1068, 1064, 1067, 1069, 1066, 1070, 1068, 1071, 1069, 1072, 1070, 1073, 1071, 1074, 1072]
E5_D = [1088, 1092, 1090, 1094, 1096, 1098, 1095, 1099, 1097, 1100, 1098, 1101, 1099, 1102, 1100, 1103]

E0_OUT = [("2019-12-14T02", 1043), ("2019-12-18T02", 1437), ("2019-12-18T04", 1255), ("2019-12-21T11", 919),
          ("2019-12-24T22", 915), ("2019-12-28T10", 922), ("2019-12-31T12", 919), ("2020-01-02T22", 935),
          ("2020-01-05T00", 932), ("2020-01-07T10", 919), ("2020-01-10T12", 919), ("2020-01-14T17", 919),
          ("2020-01-16T14", 919), ("2020-01-20T05", 912), ("2020-01-24T01", 942), ("2020-01-26T07", 919),
          ("2020-01-28T17", 919), ("2020-02-01T00", 945), ("2020-02-01T04", 922), ("2020-02-06T10", 938),
          ("2020-02-06T13", 919), ("2020-02-15T14", 935), ("2020-02-16T19", 922), ("2020-02-18T12", 912),
          ("2020-02-19T17", 914), ("2020-02-27T00", 919), ("2020-03-01T05", 947), ("2020-03-01T19", 927),
          ("2020-03-03T12", 912), ("2020-03-06T14", 912), ("2020-03-07T17", 965), ("2020-03-10T10", 960),
          ("2020-03-13T17", 976),
          ("2020-04-23T19", 932), ("2020-04-23T23", 925), ("2020-05-03T14", 1115), ("2020-05-21T10", 961),
          ("2020-05-26T02", 955), ("2020-06-02T17", 971), ("2020-06-08T07", 988), ("2020-06-12T02", 971),
          ("2020-06-14T05", 965), ("2020-06-18T22", 978), ("2020-06-22T07", 978), ("2020-06-24T19", 945),
          ("2020-06-29T17", 943)]
E1_OUT = [("2019-12-18T02", 1263), ("2019-12-18T05", 1166), ("2019-12-23T05", 1207), ("2019-12-22T14", 1169),
          ("2019-12-22T19", 1145), ("2019-12-27T17", 1115), ("2019-12-31T20", 958), ("2020-01-05T08", 990),
          ("2020-01-09T20", 965), ("2020-01-14T17", 978), ("2020-01-19T22", 958), ("2020-01-24T10", 961),
          ("2020-01-28T13", 961), ("2020-01-29T22", 951), ("2020-02-01T00", 963), ("2020-02-05T22", 958),
          ("2020-02-15T14", 958), ("2020-02-18T12", 956), ("2020-02-19T17", 955), ("2020-02-27T00", 965),
          ("2020-03-01T19", 958), ("2020-03-03T12", 958), ("2020-03-06T14", 961), ("2020-03-08T10", 1000),
          ("2020-03-05T22", 1132), ("2020-03-06T07", 1155),
          ("2020-05-24T00", 1204), ("2020-05-24T19", 1190), ("2020-06-02T17", 1168), ("2020-05-08T17", 1027),
          ("2020-05-12T22", 1020)]
E2_OUT = [("2019-12-18T17", 942), ("2019-12-20T02", 929), ("2019-12-21T12", 988), ("2019-12-23T22", 974),
          ("2019-12-26T00", 991), ("2019-12-27T17", 955), ("2019-12-29T19", 1000), ("2019-12-31T12", 935),
          ("2020-01-01T05", 919), ("2020-01-03T14", 1004), ("2020-01-06T17", 951), ("2020-01-07T14", 935),
          ("2020-01-10T12", 938), ("2020-01-14T17", 945), ("2020-01-14T21", 929), ("2020-01-19T22", 935),
          ("2020-01-20T05", 915), ("2020-01-24T10", 935), ("2020-01-28T13", 937), ("2020-01-29T22", 951),
          ("2020-02-01T00", 925), ("2020-02-05T05", 935), ("2020-02-06T13", 955), ("2020-02-15T05", 974),
          ("2020-02-15T14", 919), ("2020-02-19T17", 935), ("2020-02-25T06", 994), ("2020-02-27T00", 935),
          ("2020-03-01T10", 981), ("2020-03-03T22", 925), ("2020-03-06T14", 988), ("2020-03-07T17", 951),
          ("2020-03-08T10", 935), ("2020-03-10T02", 1060), ("2020-03-12T12", 1053),
          ("2020-05-01T17", 1468), ("2020-04-23T19", 928), ("2020-05-18T00", 978), ("2020-05-22T07", 955),
          ("2020-05-26T02", 951), ("2020-06-02T17", 974), ("2020-06-07T10", 1066)]
E3_OUT = [("2020-05-01T17", 1086), ("2020-07-15T00", 1170)]
E4_OUT = [("2020-05-01T12", 1251)]
E5_OUT = [("2019-12-14T02", 1115), ("2019-12-18T02", 1155), ("2019-12-18T05", 1122), ("2019-12-18T08", 1071),
          ("2019-12-25T07", 1146), ("2020-05-01T17", 1302)]

# ---------------------------------------------------------------- tables for the library
SERIES = {
    "T": [(T0_EARLY, T0_A, T0_B, T0_C, T0_D, T0_OUT), (T1_EARLY, T1_A, T1_B, T1_C, T1_D, T1_OUT),
          (T2_EARLY, T2_A, T2_B, T2_C, T2_D, T2_OUT), (T3_EARLY, T3_A, T3_B, T3_C, T3_D, T3_OUT),
          (T4_EARLY, T4_A, T4_B, T4_C, T4_D, T4_OUT), (T5_EARLY, T5_A, T5_B, T5_C, T5_D, T5_OUT)],
    "E": [(E0_EARLY, E0_A, E0_B, E0_C, E0_D, E0_OUT), (E1_EARLY, E1_A, E1_B, E1_C, E1_D, E1_OUT),
          (E2_EARLY, E2_A, E2_B, E2_C, E2_D, E2_OUT), (E3_EARLY, E3_A, E3_B, E3_C, E3_D, E3_OUT),
          (E4_EARLY, E4_A, E4_B, E4_C, E4_D, E4_OUT), (E5_EARLY, E5_A, E5_B, E5_C, E5_D, E5_OUT)],
}

DAY_MS = 86400000


def ms(s):
    return int(pd.Timestamp(s, tz="UTC").value // 10**6)


rows = []
for branch, tigers in SERIES.items():
    for k, (early, pa, pb, pc, pd_, out) in enumerate(tigers):
        pts = []
        for d, v in zip(EARLY_DATES, early):
            pts.append((ms(d), v, AREA_SPARSE[k]))
        for start, vals in ((A_START, pa), (B_START, pb), (C_START, pc), (D_START, pd_)):
            t0 = ms(start) + DAY_MS // 2
            for i, v in enumerate(vals):
                pts.append((t0 + i * DAY_MS, v, AREA_DENSE[k]))
        for d, v in out:
            pts.append((ms(d), v, AREA_SPARSE[k]))
        for t, v, sz in pts:
            if v is not None:
                rows.append({"branch": branch, "k": k, "tiger": TIGERS[k], "t": t, "v": v / 1000.0, "sz": sz})
points_df = pd.DataFrame(rows).sort_values(["branch", "k"], kind="stable")

bands_df = pd.DataFrame({"s": [ms(s) for s in BAND_START], "e": [ms(e) for e in BAND_END], "c": BAND_COLOR})

TICK_VALUES = [ms(d) for d in pd.date_range("2019-08-25", "2020-08-25", freq="D").strftime("%Y-%m-%d")]

# ---------------------------------------------------------------- chart
FONT = "DejaVu Sans"
W, H = 3719, 924
IS_MONTH = "utcdate(datum.value) == 1"

x_scale = alt.Scale(type="utc", domain=[ms(X_START), ms(X_END)])
y_scale = alt.Scale(domain=[0.5, 1.5], nice=False, zero=False)

x_axis = alt.Axis(
    title="Time", values=TICK_VALUES,
    labelExpr=f"{IS_MONTH} ? utcFormat(datum.value, '%m-%Y') : ''",
    labelAngle=270, labelAlign="right", labelBaseline="middle", labelOverlap=False,
    labelPadding=26, labelFlush=False, labelLimit=0, maxExtent=500,
    tickSize={"condition": {"test": IS_MONTH, "value": 14}, "value": 8},
    tickWidth={"condition": {"test": IS_MONTH, "value": 3.2}, "value": 2.4},
    gridOpacity={"condition": {"test": IS_MONTH, "value": 1}, "value": 0},
    titlePadding=72, domain=False,
)
y_axis = alt.Axis(title="TIGER Noise Level (fC)", values=[0.6, 0.8, 1.0, 1.2, 1.4], format=".1f",
                  tickSize=14, labelPadding=18, titlePadding=16, domain=False)

legend = alt.Legend(title=None, orient="none", legendX=3766, legendY=35,
                    labelFont=FONT, labelFontSize=64.5, labelColor="black", labelLimit=0,
                    symbolSize=144, symbolStrokeWidth=0, rowPadding=33, padding=26,
                    symbolOffset=33, labelOffset=88,
                    strokeColor="#d6d6d6", cornerRadius=13, fillColor="white")


def panel(branch, title):
    data = points_df[points_df["branch"] == branch]
    pts = alt.Chart(data).mark_point(filled=True, opacity=1, strokeWidth=0).encode(
        x=alt.X("t:T", scale=x_scale, axis=x_axis),
        y=alt.Y("v:Q", scale=y_scale, axis=y_axis),
        color=alt.Color("tiger:N", scale=alt.Scale(domain=TIGERS, range=COLORS), legend=legend),
        shape=alt.Shape("tiger:N", scale=alt.Scale(domain=TIGERS, range=SHAPES), legend=legend),
        size=alt.Size("sz:Q", scale=None),
        order=alt.Order("k:Q"),
    )
    bands = alt.Chart(bands_df).mark_rect(opacity=0.5).encode(
        x=alt.X("s:T", scale=x_scale, axis=x_axis),
        x2="e:T",
        y=alt.YDatum(1.5, scale=y_scale, axis=y_axis),
        y2=alt.Y2Datum(0.5),
        fill=alt.Fill("c:N", scale=None),
    )
    return alt.layer(pts, bands).properties(
        width=W, height=H,
        title=alt.Title(title, font=FONT, fontSize=77, fontWeight="normal", color="black",
                        anchor="middle", offset=45),
    )


chart = (
    alt.vconcat(panel("T", "T-Branch"), panel("E", "E-Branch"), spacing=338)
    .resolve_legend(color="independent", shape="independent")
    .resolve_scale(color="independent", shape="independent")
    .properties(padding={"left": 19, "top": -136, "right": 5, "bottom": 5}, background="white")
    .configure_axis(labelFont=FONT, titleFont=FONT, labelFontSize=64.5, titleFontSize=64.5,
                    titleFontWeight="normal", labelColor="black", titleColor="black",
                    tickColor="black", tickWidth=3.2, gridColor="#b0b0b0", gridWidth=3.2)
    .configure_view(stroke="black", strokeWidth=3.2)
    .configure_legend(strokeWidth=4)
)

chart.save("out.html", embed_options={"renderer": "svg", "actions": False})
